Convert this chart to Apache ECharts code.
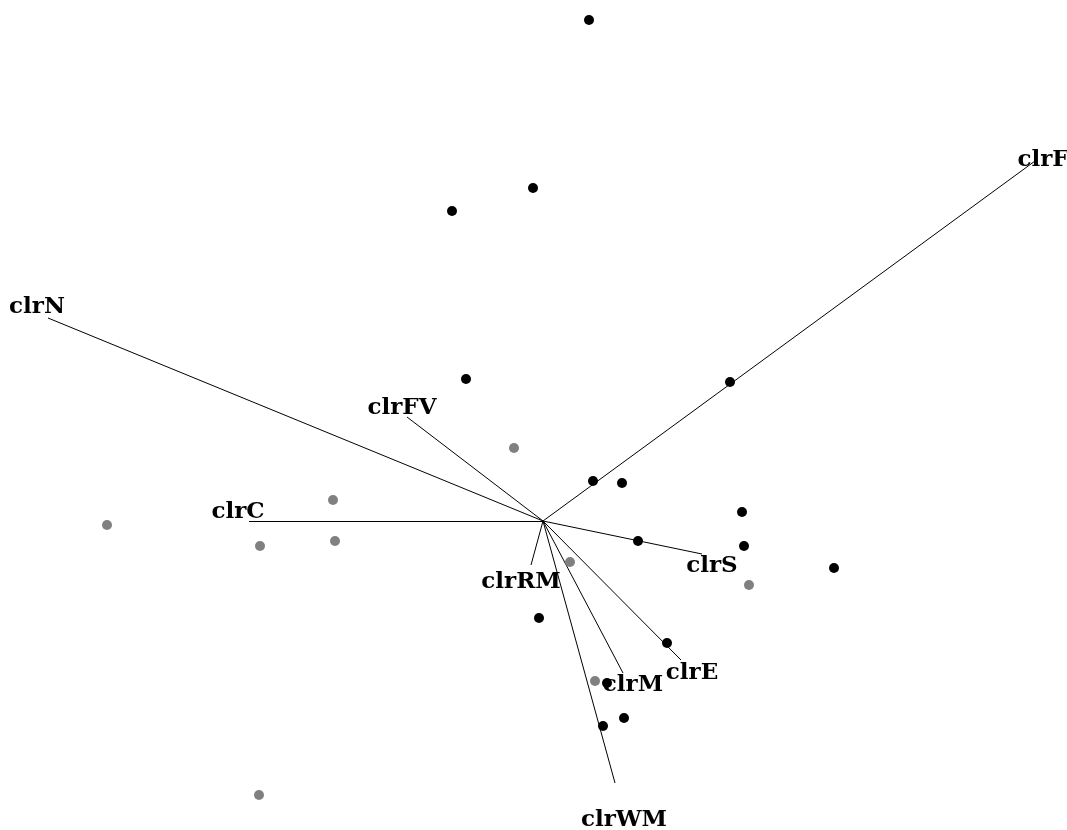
<!DOCTYPE html>
<html>
<head>
<meta charset="utf-8">
<script src="https://cdn.jsdelivr.net/npm/echarts@6/dist/echarts.min.js"></script>
<style>
	html, body { margin: 0; padding: 0; background: #fff; }
	#chart { width: 1067px; height: 830px; }
</style>
</head>
<body>
<div id="chart"></div>
<script>
// sample scores (biplot coordinates)
const groupA = [
	[0.46, 5.01], [-0.10, 3.33], [-0.91, 3.10], [-0.77, 1.42], [1.87, 1.39],
	[0.50, 0.40], [0.79, 0.38], [1.99, 0.09], [2.01, -0.25], [0.95, -0.20],
	[2.91, -0.47], [-0.04, -0.97], [1.24, -1.22], [0.64, -1.62], [0.81, -1.97],
	[0.60, -2.05]
];
const groupB = [
	[-0.29, 0.73], [-2.10, 0.21], [-4.36, -0.04], [-2.83, -0.25], [-2.08, -0.20],
	[0.27, -0.41], [2.06, -0.64], [0.52, -1.60], [-2.84, -2.74]
];

// variable loadings (arrow tips) and where their names sit
const varNames = ["clrN", "clrFV", "clrC", "clrRM", "clrS", "clrE", "clrM", "clrWM", "clrF"];
const varTips = [
	[-4.95, 2.03], [-1.36, 1.04], [-2.94, 0.00], [-0.12, -0.44], [1.59, -0.33],
	[1.38, -1.39], [0.80, -1.52], [0.72, -2.62], [4.92, 3.60]
];
const varLabelPos = [
	[-5.06, 2.14], [-1.41, 1.13], [-3.05, 0.09], [-0.22, -0.61], [1.69, -0.45],
	[1.49, -1.52], [0.90, -1.64], [0.81, -2.99], [5.00, 3.61]
];

const chart = echarts.init(document.getElementById("chart"));

const option = {
	animation: false,
	grid: { left: 0, right: 0, top: 0, bottom: 0 },
	xAxis: { type: "value", min: -5.43, max: 5.24, show: false },
	yAxis: { type: "value", min: -3.09, max: 5.21, show: false },
	series: [
		{
			type: "lines",
			coordinateSystem: "cartesian2d",
			z: 1,
			lineStyle: { color: "#000", width: 1, opacity: 1 },
			data: varTips.map(t => ({ coords: [[0, 0], t] }))
		},
		{
			type: "scatter",
			z: 2,
			symbolSize: 10,
			itemStyle: { color: "#808080", opacity: 1 },
			data: groupB
		},
		{
			type: "scatter",
			z: 2,
			symbolSize: 10,
			itemStyle: { color: "#000", opacity: 1 },
			data: groupA
		},
		{
			type: "scatter",
			z: 3,
			symbolSize: 0,
			silent: true,
			itemStyle: { opacity: 1 },
			label: {
				show: true,
				position: "inside",
				formatter: p => varNames[p.dataIndex],
				fontFamily: "DejaVu Serif",
				fontWeight: "bold",
				fontSize: 23,
				color: "#000",
				opacity: 1
			},
			data: varLabelPos
		}
	]
};

chart.setOption(option);
window.onresize = chart.resize;
</script>
</body>
</html>
